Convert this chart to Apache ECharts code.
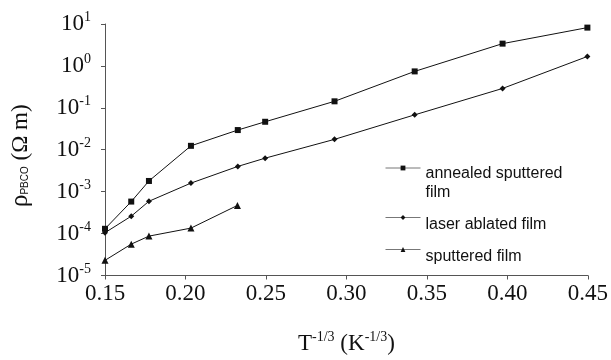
<!DOCTYPE html>
<html><head><meta charset="utf-8">
<script src="https://cdn.jsdelivr.net/npm/echarts@6/dist/echarts.min.js"></script>
<style>html,body{margin:0;padding:0;background:#fff}#c{width:611px;height:360px}</style>
</head><body><div id="c"></div>
<script>
const xValues = [0.15, 0.1663, 0.1773, 0.2034, 0.2325, 0.2495, 0.2926, 0.3424, 0.397, 0.4497];
const annealedSputtered = [1.3e-4, 5.8e-4, 1.8e-3, 1.24e-2, 2.95e-2, 4.65e-2, 0.143, 0.74, 3.4, 8.2];
const laserAblated = [1.05e-4, 2.6e-4, 5.9e-4, 1.6e-3, 4.0e-3, 6.3e-3, 1.77e-2, 0.068, 0.29, 1.68];
const sputteredX = [0.15, 0.1663, 0.1773, 0.2034, 0.2323];
const sputtered = [2.3e-5, 5.6e-5, 8.7e-5, 1.35e-4, 4.7e-4];
const seriesNames = ['annealed sputtered film', 'laser ablated film', 'sputtered film'];
const legendLabels = [['annealed sputtered', 'film'], ['laser ablated film'], ['sputtered film']];
const xTicks = [0.15, 0.20, 0.25, 0.30, 0.35, 0.40, 0.45];

const pair = (xs, ys) => xs.map((x, i) => [x, ys[i]]);
const chart = echarts.init(document.getElementById('c'), null, {renderer: 'canvas'});
const serif = 'Liberation Serif';
const sans = 'Liberation Sans';
const lineStyle = {color: '#111', width: 1};
function mkSeries(name, data, symbol, size) {
  return {name, type: 'line', data, symbol, symbolSize: size, showSymbol: true,
    lineStyle, itemStyle: {color: '#111'}, animation: false};
}
function mkLegend(name, top, lines, spacer) {
  const text = '{z| }\n' + lines.map(l => '{t|' + l + '}').join('\n');
  return {show: true, orient: 'vertical', left: 385, top, padding: 0, itemWidth: 35, itemHeight: 6,
    data: [{name}],
    formatter: () => text,
    textStyle: {fontFamily: sans, fontSize: 16, color: '#111',
      rich: {z: {fontSize: 4, lineHeight: spacer}, t: {fontFamily: sans, fontSize: 16, color: '#111', lineHeight: 19}}},
    lineStyle: {color: '#777', width: 1}};
}
chart.setOption({
  animation: false,
  grid: {left: 101, right: 19, top: 24, bottom: 77, containLabel: false},
  legend: [
    mkLegend(seriesNames[0], 147, legendLabels[0], 31),
    mkLegend(seriesNames[1], 206, legendLabels[1], 14),
    mkLegend(seriesNames[2], 238, legendLabels[2], 14)
  ],
  xAxis: {
    type: 'value', min: xTicks[0], max: xTicks[xTicks.length - 1], interval: 0.05,
    axisLine: {lineStyle: {color: '#555', width: 1}},
    axisTick: {show: true, length: 4, lineStyle: {color: '#555'}},
    splitLine: {show: false},
    axisLabel: {fontFamily: serif, fontSize: 23, color: '#111', margin: 7,
      formatter: v => v.toFixed(2)},
    name: '{b|T}{e|-1/3}{b| (K}{e|-1/3}{b|)}',
    nameLocation: 'middle', nameGap: 55,
    nameTextStyle: {rich: {
      b: {fontFamily: serif, fontSize: 23, color: '#111'},
      e: {fontFamily: serif, fontSize: 14, color: '#111', verticalAlign: 'bottom', padding: [0, 0, 12, 0]}
    }}
  },
  yAxis: {
    type: 'log', logBase: 10, min: 1e-5, max: 10,
    axisLine: {show: true, lineStyle: {color: '#555', width: 1}},
    axisTick: {show: true, length: 4, lineStyle: {color: '#555'}},
    minorTick: {show: false},
    splitLine: {show: false},
    axisLabel: {margin: 14, formatter: v => '{b|10}{e|' + Math.round(Math.log10(v)) + '}',
      rich: {
        b: {fontFamily: serif, fontSize: 23, color: '#111'},
        e: {fontFamily: serif, fontSize: 14, color: '#111', verticalAlign: 'bottom', padding: [0, 0, 13, 0]}
      }},
    name: '{r|ρ}{s|PBCO}{b| (Ω m)}',
    nameLocation: 'middle', nameGap: 72, nameRotate: 90,
    nameTextStyle: {rich: {
      r: {fontFamily: serif, fontSize: 25, color: '#111'},
      s: {fontFamily: sans, fontSize: 10, color: '#111', verticalAlign: 'top', padding: [12, 0, 0, 0]},
      b: {fontFamily: serif, fontSize: 23, color: '#111', padding: [0, 12, 0, 0]}
    }}
  },
  series: [
    mkSeries(seriesNames[0], pair(xValues, annealedSputtered), 'rect', 6),
    mkSeries(seriesNames[1], pair(xValues, laserAblated), 'diamond', 6),
    mkSeries(seriesNames[2], pair(sputteredX, sputtered), 'triangle', 7)
  ]
});
</script></body></html>
